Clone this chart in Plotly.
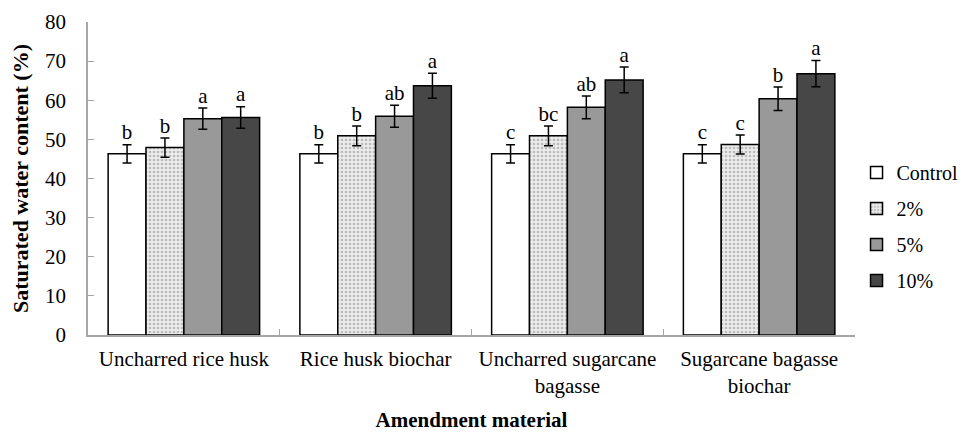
import plotly.graph_objects as go

categories = ["Uncharred rice husk", "Rice husk biochar",
              "Uncharred sugarcane<br>bagasse", "Sugarcane bagasse<br>biochar"]
series_names = ["Control", "2%", "5%", "10%"]
values = {
    "Control": [46.3, 46.3, 46.3, 46.3],
    "2%": [47.9, 50.9, 50.9, 48.7],
    "5%": [55.3, 55.9, 58.2, 60.4],
    "10%": [55.6, 63.7, 65.2, 66.8],
}
errors = {
    "Control": [2.35, 2.35, 2.35, 2.35],
    "2%": [2.45, 2.55, 2.5, 2.45],
    "5%": [2.7, 2.8, 2.9, 3.0],
    "10%": [2.75, 3.2, 3.3, 3.35],
}
letters = {
    "Control": ["b", "b", "c", "c"],
    "2%": ["b", "b", "bc", "c"],
    "5%": ["a", "ab", "ab", "b"],
    "10%": ["a", "a", "a", "a"],
}
y_ticks = [0, 10, 20, 30, 40, 50, 60, 70, 80]

fills = {"Control": "white", "2%": "#e6e6e6", "5%": "#999999", "10%": "#474747"}
FONT = "Liberation Serif"

fig = go.Figure()
for name in series_names:
    marker = dict(color=fills[name], line=dict(color="black", width=1.5))
    if name == "2%":
        marker["pattern"] = dict(shape=".", fgcolor="#8a8a8a", bgcolor="#ececec",
                                 size=4, solidity=0.35, fillmode="overlay")
    fig.add_trace(go.Bar(
        name=name, x=categories, y=values[name], marker=marker,
        error_y=dict(type="data", array=errors[name], visible=True,
                     color="black", thickness=1.5, width=4.5),
        legendgroup=name,
    ))

for name in series_names:
    tops = [v + e for v, e in zip(values[name], errors[name])]
    fig.add_trace(go.Scatter(
        x=categories, y=tops, mode="text", text=letters[name],
        textposition="top center", textfont=dict(family=FONT, size=21, color="black"),
        showlegend=False, hoverinfo="skip",
    ))

# page has an 8px body margin, so figure is 8px smaller and margins shifted
fig.update_layout(
    width=962, height=424,
    margin=dict(l=80, r=115, t=14, b=97, autoexpand=False),
    paper_bgcolor="white", plot_bgcolor="white",
    barmode="group", bargap=0.21, bargroupgap=0,
    scattermode="group", scattergap=0.21,
    font=dict(family=FONT, size=21, color="black"),
    showlegend=True,
    legend=dict(x=1.002, y=0.347, xanchor="left", yanchor="middle",
                font=dict(family=FONT, size=20, color="black"), traceorder="grouped",
                tracegroupgap=7, itemwidth=30),
)
fig.update_xaxes(
    showline=True, linecolor="#a6a6a6", linewidth=1.5,
    ticks="inside", tickson="boundaries", ticklen=6, tickcolor="#a6a6a6",
    tickfont=dict(family=FONT, size=21, color="black"), ticklabelstandoff=4,
    tickangle=0, automargin=False,
    title=dict(text="<b>Amendment material</b>", font=dict(family=FONT, size=21, color="black"), standoff=22),
    showgrid=False,
)
fig.update_yaxes(
    range=[0, 80], tickvals=y_ticks, showline=True, linecolor="#a6a6a6", linewidth=1.5,
    ticks="inside", ticklen=6, tickcolor="#a6a6a6", automargin=False,
    tickfont=dict(family=FONT, size=21, color="black"), ticklabelstandoff=16,
    title=dict(text="<b>Saturated water content (%)</b>", font=dict(family=FONT, size=22, color="black"), standoff=13),
    showgrid=False, zeroline=False,
)

fig.write_html("out.html")
